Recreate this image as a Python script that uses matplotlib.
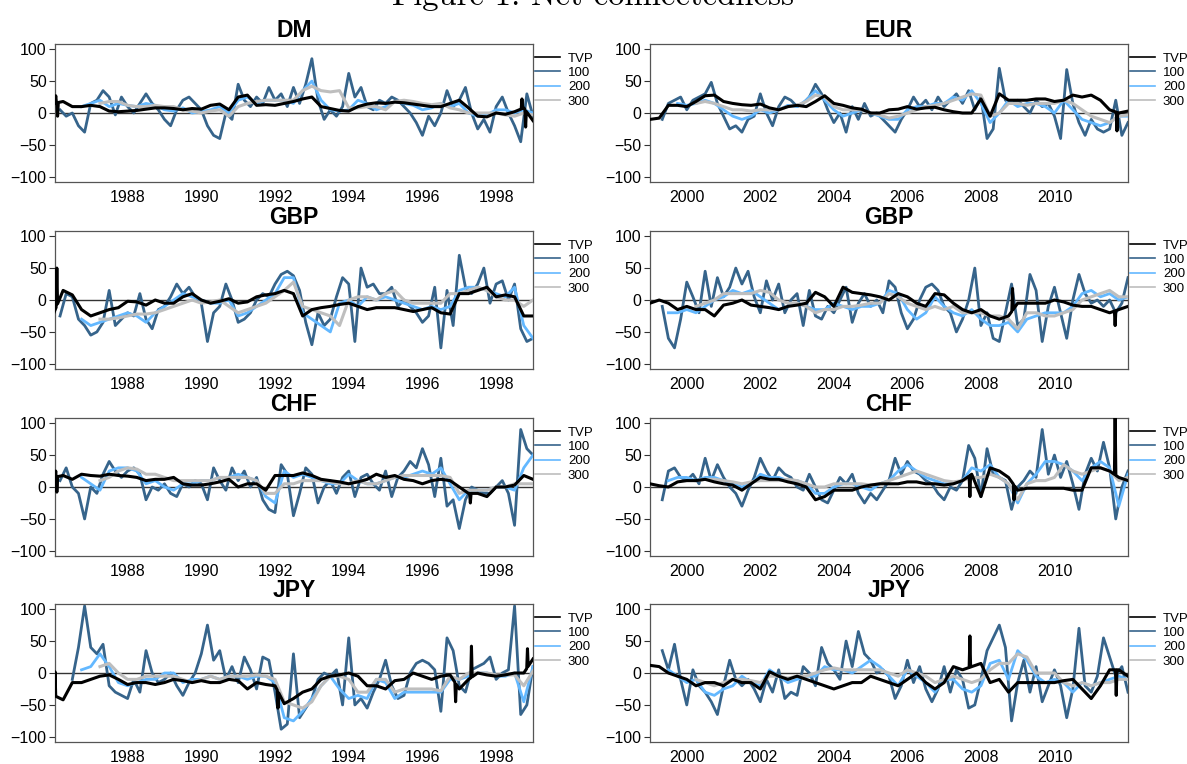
import numpy as np
import matplotlib.pyplot as plt
from matplotlib.lines import Line2D

plt.rcParams['font.family'] = ['Liberation Sans', 'DejaVu Sans']
nan = np.nan

# TVP, 200, 300 are read on a quarterly grid, the 100 window every two months
# left column runs 1986-1999, right column 1999-2012

# ---- DM (1986-1999)
dm_tvp = [15, 18, 10, 10,  12, 10, 3, 2,  3, 4, 6, 8,  8, 7, 5, 7,  6, 12, 14, 5,
          25, 28, 12, 13,  12, 15, 18, 22,  25, 10, 7, 4,  3, 10, 14, 16,  15, 17, 16, 14,
          12, 10, 10, 15,  20, 8, -5, -6,  0, -2, 2, 8,  -12]
dm_100 = [nan, 5, -5, 0, -20, -30,  15, 20, 35, 25, -3, 25,  10, 0, 15, 30, 15, 5,
          -10, -20, 5, 20, 25, 15,  5, -20, -35, -40, 0, -10,  45, 20, 10, 25, 15, 40,
          20, 30, 10, 40, 15, 45,  85, 20, -10, 5, -5, 10,  62, 25, 40, 10, 5, 20,
          15, 25, 20, 10, 0, -15,  -35, -5, -20, 0, 35, 10,  20, 40, 0, -25, -10, -30,
          10, 25, 0, -20, -45, 30,  -5]
dm_200 = [nan, nan, nan, 10,  15, 20, 10, 15,  12, 10, 15, 12,  5, 3, 8, 0,  2, 5, 10, 0,
          20, 25, 15, 20,  20, 20, 15, 35,  50, 20, 5, 3,  5, 20, 15, 5,  10, 18, 15, 12,
          5, 8, 15, 10,  15, 0, -5, -3,  5, 5, 0, 5,  0]
dm_300 = [nan, nan, nan, nan,  nan, 15, 18, 18,  12, 10, 10, 12,  10, 10, 5, 3,  0, 3, 5, -5,
          10, 15, 18, 20,  20, 20, 20, 35,  42, 35, 33, 35,  8, 8, 10, 10,  5, 18, 20, 18,
          15, 13, 15, 8,  5, 0, 0, 0,  0, -3, -5, 0,  -3]
dm_spk_t = [1986.05, 1986.1, 1998.7, 1998.8]
dm_spk_v = [27, -5, 22, -22]

# ---- EUR (1999-2012)
eur_tvp = [-10, -8, 12, 12,  10, 18, 27, 28,  18, 15, 13, 12,  14, 8, 5, 10,  12, 10, 18, 27,
           15, 12, 8, 6,  0, 0, 5, 6,  10, 6, 8, 9,  5, 2, 0, 0,  22, -5, 30, 20,
           20, 20, 22, 22,  18, 20, 28, 25,  28, 20, 5, 0,  3]
eur_100 = [nan, nan, -10, 15, 20, 25,  5, 20, 25, 30, 48, 15,  -5, -25, -20, -30, -10, -5,
           30, 0, -20, 10, 25, 20,  10, 15, 25, 45, 30, 5,  -15, 0, -30, 10, -10, 15,
           -5, 0, -10, -20, -30, -10,  5, 25, 10, 20, 5, 25,  10, 20, 30, 15, 35, 5,
           25, -40, -25, 70, 20, 15,  20, 10, 0, 20, 10, 15,  -5, -40, 68, 15, -15, -35,
           -10, -25, -30, -25, 20, -35,  -15]
eur_200 = [nan, nan, nan, 15,  12, 15, 20, 15,  5, -5, -10, -5,  5, 0, 5, 12,  10, 20, 35, 20,
           5, -5, 0, 5,  0, -5, -10, -10,  5, 10, 10, 15,  15, 25, 20, 35,  15, -15, 0, 20,
           10, 15, 15, 10,  0, 20, 5, -10,  -15, -20, -15, -5,  -5]
eur_300 = [nan, nan, nan, nan,  nan, 15, 18, 15,  10, 5, 5, 3,  5, 5, 5, 10,  12, 18, 28, 25,
           10, 5, 5, 5,  0, -3, -8, -5,  0, 5, 10, 12,  15, 20, 25, 30,  28, -5, 0, 15,
           15, 12, 15, 15,  15, 20, 15, 5,  -5, -10, -15, -5,  -3]
eur_spk_t = [2011.7]
eur_spk_v = [-28]

# ---- GBP (1986-1999)
gbp1_tvp = [-20, 15, 8, -15,  -25, -20, -15, -12,  -2, -3, -8, 0,  -5, -5, 5, 10,  0, -5, -2, 2,
            -5, -3, 5, 8,  10, 15, 10, -25,  -15, -12, -10, -7,  -5, -10, -15, -12,
            -12, -12, -15, -18,  -15, -12, -20, -22,  10, 10, 15, 20,  5, 8, 5, -25,  -25]
gbp1_100 = [nan, -25, 10, 5, -30, -40,  -55, -50, -35, 15, -40, -30,  -20, -25, 10, -30, -45, -15,
            -10, 5, 25, 10, 20, 5,  -5, -65, -20, -10, 25, 0,  -35, -30, -20, 0, 10, 5,
            25, 40, 45, 38, 15, -35,  -70, -20, -40, -30, 5, 35,  25, -65, 50, 20, 25, 10,
            10, 20, -10, 0, -10, -20,  -35, -25, 20, -75, 15, -40,  70, 20, 10, 25, 50, -5,
            25, 30, 0, 25, -45, -65,  -60]
gbp1_200 = [nan, nan, nan, -30,  -40, -35, -30, -25,  -20, -25, -35, -20,  -10, 0, 10, 5,
            0, -5, -5, 0,  -25, -20, -10, 0,  10, 35, 35, -20,  -30, -40, -50, -5,
            0, -10, 5, 0,  5, 0, -5, -10,  -15, -10, -15, -10,  15, 20, 20, 15,  10, 5, 20, -40,  -60]
gbp1_300 = [nan, nan, nan, nan,  nan, -30, -30, -28,  -25, -22, -22, -20,  -15, -10, -5, 0,
            -5, -3, 0, -10,  -20, -15, -10, -5,  5, 15, 28, -10,  -15, -20, -25, -40,
            0, 5, 5, 0,  10, 15, 0, -5,  -5, -5, -5, 10,  10, 15, 20, 15,  5, 0, 0, -10,  0]
gbp1_spk_t = [1986.08]
gbp1_spk_v = [50]

# ---- GBP (1999-2012)
gbp2_tvp = [-5, 0, -5, -15,  -10, -15, -15, -25,  -8, -5, 0, -8,  -10, -12, -15, -10,
            -8, -5, 12, 5,  -10, 20, 12, 10,  8, 5, 0, 10,  5, -5, -10, 10,  8, -5, -15, -20,
            -15, -25, -30, -25,  -5, -5, -5, -5,  0, -3, -8, -10,  -10, -15, -20, -15,  -10]
gbp2_100 = [nan, nan, -10, -60, -75, -30,  28, 5, -20, 45, -10, 35,  5, 20, 50, 25, 45, 5,
            -20, 30, 0, 25, -20, 0,  10, -40, 15, -25, -30, -10,  -20, 0, 20, -35, -5, 10,
            -10, 0, -20, 30, 20, -20,  -45, -30, 0, 20, 25, 15,  -10, -20, -50, -30, 0, 50,
            -40, -20, -60, -65, -20, 25,  -40, -30, 40, 15, -65, -10,  20, -20, -60, 0, 40, 10,
            -5, 0, -10, 0, -20, -5,  35]
gbp2_200 = [nan, nan, -20, -20,  -15, -20, -10, 0,  5, 15, 10, 15,  5, -5, -15, -10,
            -5, -10, -15, -15,  -5, -10, -15, -10,  -10, -5, 15, 10,  -15, -30, -20, 5,
            -10, -20, -25, -15,  -30, -40, -40, -35,  -50, -30, -25, -20,  -20, -20, -10, 10,
            15, 5, 10, 0,  5]
gbp2_300 = [nan, nan, nan, nan,  nan, -10, -5, 0,  10, 10, 10, 10,  15, 12, 0, -5,
            -5, -10, -20, -15,  -15, -10, -10, -8,  -5, -5, 10, 5,  -5, -10, -15, -10,
            -15, -10, -20, -20,  -20, -25, -25, -30,  -45, -20, -20, -25,  -25, -20, -15, 0,
            5, 10, 15, 5,  5]
gbp2_spk_t = [2008.86, 2011.65]
gbp2_spk_v = [18, -40]

# ---- CHF (1986-1999)
chf1_tvp = [15, 18, 12, 20,  18, 17, 20, 18,  17, 15, 10, 12,  12, 15, 5, 3,  3, 5, 8, 12,
            0, 5, 5, -5,  18, 18, 18, 22,  18, 12, 10, 8,  5, 8, 12, 20,  15, 18, 12, 10,
            5, 10, 12, 10,  0, -10, -10, -15,  0, 0, 3, 18,  12]
chf1_100 = [nan, 10, 30, 0, -10, -50,  0, -10, 20, 40, 25, 15,  25, 30, 20, -20, 0, -5,
            5, -10, -15, 5, 0, 10,  5, -20, 30, 10, -5, 30,  10, 25, 0, 15, -20, -35,
            -40, 35, 20, -45, -10, 30,  20, -25, 0, 10, -10, 15,  25, -15, 15, 20, 5, -5,
            25, -15, 15, 25, 40, 30,  60, 35, -15, 45, -30, -20,  -65, -20, 0, -5, -10, -10,
            0, 10, -10, -60, 90, 60,  50]
chf1_200 = [nan, nan, nan, 15,  5, -5, 25, 30,  30, 25, 5, 10,  0, -5, 5, 5,  10, 10, 15, 15,
            20, 15, 10, -15,  -25, 25, 15, 20,  15, 10, 5, 5,  20, 10, 5, 5,  10, 15, 15, 20,
            25, 20, 30, 5,  -20, -5, -5, -5,  0, 0, -5, 30,  50]
chf1_300 = [nan, nan, nan, nan,  nan, 10, 15, 25,  30, 28, 20, 20,  15, 10, 10, 10,  10, 10, 15, 15,
            15, 15, 10, -10,  -10, 5, 5, 10,  10, 10, 8, 5,  5, 10, 5, 5,  10, 15, 18, 18,
            18, 18, 18, 15,  -10, -5, -5, -5,  0, 0, 5, 5,  5]
chf1_spk_t = [1986.05, 1986.08, 1997.3]
chf1_spk_v = [25, -8, -25]

# ---- CHF (1999-2012)
chf2_tvp = [5, 2, 0, 8,  10, 10, 12, 8,  5, 3, -5, 5,  15, 12, 12, 8,  5, 0, -20, -15,
            -5, -5, -5, 0,  3, 5, 5, 5,  8, 8, 5, 5,  3, 5, 10, 20,  -15, 30, 25, 15,
            -5, -2, -2, -2,  -2, -2, -5, -5,  30, 30, 25, 15,  10]
chf2_100 = [nan, nan, -20, 25, 30, 15,  10, 20, 5, 45, 10, 35,  15, 0, -10, -30, -5, 15,
            45, 25, 10, 30, 20, 15,  0, -5, 20, 0, -20, -25,  -5, 15, 5, 20, -10, -25,
            -10, -20, -5, 10, 45, 20,  40, 25, 20, 10, 5, -10,  -20, 0, -5, 10, 65, 45,
            -15, 60, 20, 15, 10, -35,  0, 10, 25, 15, 90, 20,  50, 15, 40, 5, -35, 20,
            45, 25, 70, 30, -50, 0,  25]
chf2_200 = [nan, nan, 10, 15,  15, 10, 15, 15,  10, 5, 0, 5,  20, 15, 15, 10,  10, 5, -10, -10,
            0, 5, 5, 0,  -5, 5, 10, 25,  35, 25, 15, 10,  5, 5, 10, 30,  25, 35, 15, 5,
            -25, 5, 20, 40,  40, 35, 25, 10,  30, 40, 30, -30,  20]
chf2_300 = [nan, nan, nan, nan,  nan, 10, 12, 12,  10, 8, 5, 8,  10, 10, 10, 12,  10, 5, 0, 0,
            5, 5, 5, 5,  3, 5, 10, 15,  20, 25, 20, 15,  10, 8, 10, 15,  15, 20, 15, 5,
            -20, 5, 10, 10,  15, 35, 25, 20,  25, 30, 25, 10,  15]
chf2_spk_t = [2007.7, 2008.9, 2011.65]
chf2_spk_v = [-15, -20, 115]

# ---- JPY (1986-1999)
jpy1_tvp = [-35, -42, -15, -15,  -10, -5, -3, -10,  -18, -15, -15, -18,  -15, -10, -12, -15,
            -12, -15, -15, -10,  -12, -25, -15, -18,  -20, -48, -40, -30,  -25, -10, -5, -3,
            0, -5, -20, -20,  -25, -12, -10, 0,  -5, -10, -5, -3,  -25, -10, 0, -3,
            -5, -3, 0, 0,  22]
jpy1_100 = [nan, nan, nan, -10, 40, 105,  40, 30, 45, -20, -30, -35,  -40, -10, -30, 35, 0, -15,
            -10, 0, -20, -35, -15, 0,  30, 75, 20, 35, -10, 10,  -15, 25, 5, -25, 25, 20,
            -30, -88, -80, 30, -70, -55,  -40, -10, 0, -5, 5, -50,  55, -50, -40, -55, -30, -10,
            20, -20, -40, -35, 0, 15,  20, 15, 5, -60, 55, 35,  -20, -30, 5, 10, 15, 25,
            -10, 0, 5, 105, -65, -50,  10]
jpy1_200 = [nan, nan, nan, 5,  10, 30, 10, -15,  -20, -15, -10, -10,  0, 0, -15, -10,
            -10, -5, -10, -5,  -5, -10, -5, -5,  -15, -70, -75, -60,  -40, -20, -5, -25,
            -40, -35, -40, -10,  -15, -40, -30, -30,  -30, -30, -30, -10,  -10, -5, 0, 0,
            -5, -5, 0, -45,  10]
jpy1_300 = [nan, nan, nan, nan,  nan, 10, 15, 0,  -10, -10, -5, -5,  -5, -5, -10, -15,
            -10, -5, -10, -5,  -5, -5, -3, -5,  -10, -45, -50, -55,  -45, -20, -5, -5,
            -10, -30, -30, -10,  -10, -30, -25, -25,  -25, -25, -28, -5,  -10, 0, 0, 0,
            -3, -3, -3, -20,  3]
jpy1_spk_t = [1986.03, 1992.08, 1996.9, 1997.33, 1998.85]
jpy1_spk_v = [2, -55, -45, 42, 38]

# ---- JPY (1999-2012)
jpy2_tvp = [12, 10, 0, -5,  -10, -20, -15, -15,  -20, -10, -15, -15,  -25, 2, -5, -10,
            -5, -10, -15, -20,  -25, -20, -15, -15,  -5, -10, -15, -20,  -10, 0, -15, -25,
            -15, 10, 5, 10,  15, -15, -10, -30,  -15, -15, -15, -15,  -15, -12, -10, -25,
            -40, -20, 5, 5,  -5]
jpy2_100 = [nan, nan, 35, 5, 45, -10,  -50, 5, -20, -30, -45, -65,  -20, 20, -10, -20, -10, -25,
            -45, -10, -30, 5, -40, -30,  -35, 10, 0, -20, 40, 15,  5, -10, 50, 10, 65, 30,
            20, 0, 5, -5, -40, -20,  20, -15, 10, -25, -45, -25,  10, -30, 5, -10, -55, -50,
            -10, 35, 55, 75, 40, -75,  -15, 20, -30, 10, -45, -20,  5, -20, -70, -25, 70, -20,
            -30, -5, 55, 25, -5, 10,  -30]
jpy2_200 = [nan, nan, 5, -5,  -15, -10, -30, -35,  -25, -20, -5, -15,  -20, 5, -5, -15,
            -10, -5, -5, 10,  5, 5, 0, 10,  20, 10, -5, -20,  5, -5, -15, -30,
            -10, -10, -25, -30,  -20, 15, 20, -10,  35, 20, -5, -15,  -10, -15, -30, -15,
            -20, -15, -10, -5,  -10]
jpy2_300 = [nan, nan, nan, nan,  nan, -10, -15, -20,  -15, -10, -10, -12,  -15, -5, -5, -8,
            -5, -5, 0, 5,  8, 5, 5, 5,  5, 5, 0, -5,  5, 0, -5, -15,  -10, -5, -10, -15,
            -10, 5, 15, 15,  30, 25, 0, 0,  0, -15, -20, -15,  -20, -15, -15, -10,  -10]
jpy2_spk_t = [2007.7, 2011.68]
jpy2_spk_v = [58, -35]

titles = ['DM', 'EUR', 'GBP', 'GBP', 'CHF', 'CHF', 'JPY', 'JPY']
starts = [1986.0, 1999.0] * 4
labels = ['TVP', '100', '200', '300']
colors = ['black', '#36648B', '#63B8FF', '#BEBEBE']

panels = [
    (dm_tvp, dm_100, dm_200, dm_300, dm_spk_t, dm_spk_v),
    (eur_tvp, eur_100, eur_200, eur_300, eur_spk_t, eur_spk_v),
    (gbp1_tvp, gbp1_100, gbp1_200, gbp1_300, gbp1_spk_t, gbp1_spk_v),
    (gbp2_tvp, gbp2_100, gbp2_200, gbp2_300, gbp2_spk_t, gbp2_spk_v),
    (chf1_tvp, chf1_100, chf1_200, chf1_300, chf1_spk_t, chf1_spk_v),
    (chf2_tvp, chf2_100, chf2_200, chf2_300, chf2_spk_t, chf2_spk_v),
    (jpy1_tvp, jpy1_100, jpy1_200, jpy1_300, jpy1_spk_t, jpy1_spk_v),
    (jpy2_tvp, jpy2_100, jpy2_200, jpy2_300, jpy2_spk_t, jpy2_spk_v),
]


def add_spikes(t, v, st, sv):
    # short one-off jumps of the TVP line
    st = np.asarray(st, float)
    lo = np.interp(st - 0.02, t, v)
    hi = np.interp(st + 0.02, t, v)
    tt = np.concatenate([t, st - 0.02, st, st + 0.02])
    vv = np.concatenate([v, lo, sv, hi])
    o = np.argsort(tt, kind='stable')
    return tt[o], vv[o]


fig = plt.figure(figsize=(11.87, 7.64), dpi=100)
# the page title is cut by the top edge in the original too
fig.text(0.5, 1 - 5 / 764, 'Figure 1: Net connectedness', family='cmr10',
         fontsize=23.5, ha='center', va='baseline')

lefts = [55 / 1187, 650 / 1187]
bottoms = [1 - 182 / 764, 1 - 369 / 764, 1 - 556 / 764, 1 - 742 / 764]
w, h = 478 / 1187, 138 / 764

for i, (tvp, s100, s200, s300, spk_t, spk_v) in enumerate(panels):
    ax = fig.add_axes([lefts[i % 2], bottoms[i // 2], w, h])
    t0 = starts[i]
    tq = t0 + np.arange(len(tvp)) * 0.25
    tb = t0 + np.arange(len(s100)) / 6.0

    ax.axhline(0, color='#333333', lw=1.0, zorder=1)
    ax.plot(tb, np.array(s100, float), color=colors[1], lw=2.0, zorder=2)
    ax.plot(tq, np.array(s200, float), color=colors[2], lw=2.0, zorder=3)
    ax.plot(tq, np.array(s300, float), color=colors[3], lw=2.2, zorder=4)
    tt, vv = add_spikes(tq, np.array(tvp, float), spk_t, spk_v)
    ax.plot(tt, vv, color=colors[0], lw=2.2, zorder=5)

    ax.set_xlim(t0 + 0.03 if t0 < 1990 else t0, t0 + 13.0)
    ax.set_ylim(-108, 108)
    ax.set_yticks([-100, -50, 0, 50, 100])
    xt = np.arange(t0 + 2, t0 + 13, 2) if t0 < 1990 else np.arange(t0 + 1, t0 + 13, 2)
    ax.set_xticks(xt)
    ax.set_xticklabels([str(int(x)) for x in xt])
    ax.tick_params(labelsize=11.5, width=0.8, color='#333333')
    ax.tick_params(axis='y', length=4, pad=2)
    ax.tick_params(axis='x', length=0, pad=6)
    for sp in ax.spines.values():
        sp.set_color('#555555')
        sp.set_linewidth(0.9)
    ax.set_title(titles[i], fontsize=16.5, fontweight='bold', pad=5)

    handles = [Line2D([], [], color=c, lw=1.2) for c in colors]
    ax.legend(handles, labels, loc='upper left', bbox_to_anchor=(1.004, 0.94),
              frameon=False, fontsize=9.5, handlelength=1.9, handletextpad=0.6,
              labelspacing=0.17, borderaxespad=0, borderpad=0)

fig.savefig('out.png', dpi=100)
